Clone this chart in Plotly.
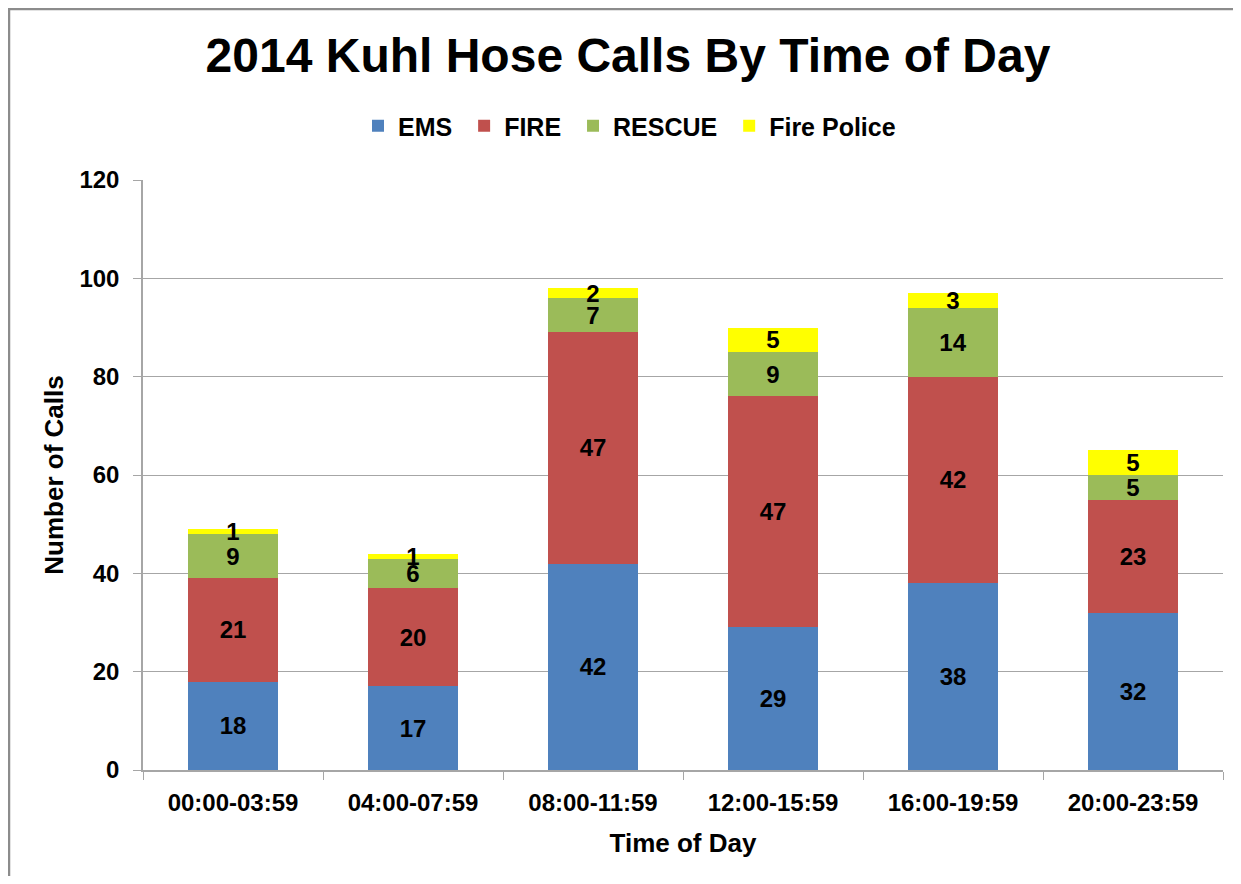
import plotly.graph_objects as go

categories = ["00:00-03:59", "04:00-07:59", "08:00-11:59", "12:00-15:59", "16:00-19:59", "20:00-23:59"]
ems = [18, 17, 42, 29, 38, 32]
fire = [21, 20, 47, 47, 42, 23]
rescue = [9, 6, 7, 9, 14, 5]
fire_police = [1, 1, 2, 5, 3, 5]
y_ticks = [0, 20, 40, 60, 80, 100, 120]

series = [
    ("EMS", ems, "#4F81BD"),
    ("FIRE", fire, "#C0504D"),
    ("RESCUE", rescue, "#9BBB59"),
    ("Fire Police", fire_police, "#FFFF00"),
]

FONT = "Arial, Liberation Sans, sans-serif"
W, H = 1225, 868
L, R, T, B = 135, 10, 172, 106
PW, PH = W - L - R, H - T - B

fig = go.Figure()
for name, vals, color in series:
    fig.add_trace(go.Bar(
        name="<b>" + name + "\u00a0</b>", x=categories, y=vals,
        marker=dict(color=color, line=dict(width=0)),
        texttemplate="<b>%{y}</b>", textposition="inside", textangle=0,
        insidetextanchor="middle",
        textfont=dict(family=FONT, size=24, color="black"),
        constraintext="none", cliponaxis=False,
    ))

fig.update_layout(
    barmode="stack", bargap=0.5,
    width=W, height=H,
    margin=dict(l=L, r=R, t=T, b=B, autoexpand=False),
    paper_bgcolor="white", plot_bgcolor="white",
    font=dict(family=FONT, color="black"),
    uniformtext=dict(minsize=24, mode="show"),
    title=dict(text="<b>2014 Kuhl Hose Calls By Time of Day</b>",
               x=620 / W, xanchor="center", y=1 - 47 / H, yanchor="middle",
               font=dict(family=FONT, size=48, color="black")),
    legend=dict(orientation="h", xref="container", x=625 / W, xanchor="center",
                yref="container", y=1 - 118 / H, yanchor="middle",
                font=dict(family=FONT, size=25, color="black"),
                itemwidth=30, traceorder="normal"),
    xaxis=dict(title=dict(text="<b>Time of Day</b>", font=dict(family=FONT, size=26), standoff=19),
               tickvals=categories, ticktext=["<b>" + c + "</b>" for c in categories],
               tickfont=dict(family=FONT, size=24),
               showline=True, linecolor="#A6A6A6", linewidth=1.5,
               ticks="outside", tickson="boundaries", ticklen=8, tickcolor="#A6A6A6",
               ticklabelstandoff=10, automargin=False),
    yaxis=dict(title=dict(text="<b>Number of Calls</b>", font=dict(family=FONT, size=26), standoff=8),
               range=[0, 120], tickvals=y_ticks, ticktext=["<b>%d</b>" % v for v in y_ticks],
               tickfont=dict(family=FONT, size=24),
               showline=True, linecolor="#A6A6A6", linewidth=1.5,
               ticks="outside", ticklen=8, tickcolor="#A6A6A6",
               ticklabelstandoff=9, automargin=False,
               showgrid=True, gridcolor="#A6A6A6", gridwidth=1.2, zeroline=False),
)

fig.add_shape(type="rect", xref="paper", yref="paper",
              x0=-(L - 1) / PW, x1=(W - L + 20) / PW, y0=-(B + 20) / PH, y1=1 + (T - 1) / PH,
              line=dict(color="#8C8C8C", width=2.5), fillcolor="rgba(0,0,0,0)", layer="below")

fig.write_html("out.html")
